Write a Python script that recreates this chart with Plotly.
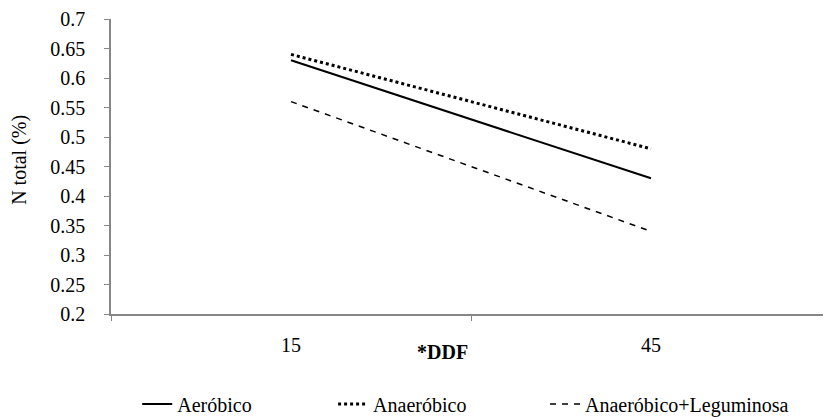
import plotly.graph_objects as go

categories = ["15", "45"]
aerobico = [0.63, 0.43]
anaerobico = [0.64, 0.48]
anaerobico_leg = [0.56, 0.34]
y_ticks = [0.2, 0.25, 0.3, 0.35, 0.4, 0.45, 0.5, 0.55, 0.6, 0.65, 0.7]
y_tick_labels = ["0.2", "0.25", "0.3", "0.35", "0.4", "0.45", "0.5", "0.55", "0.6", "0.65", "0.7"]

FONT = "Times New Roman, Liberation Serif, serif"
FS = 20

fig = go.Figure()
fig.add_trace(go.Scatter(x=categories, y=aerobico, mode="lines", name="Aeróbico",
                         legend="legend",
                         line=dict(color="black", width=2, dash="solid")))
fig.add_trace(go.Scatter(x=categories, y=anaerobico, mode="lines", name="Anaeróbico",
                         legend="legend2",
                         line=dict(color="black", width=3, dash="dot")))
fig.add_trace(go.Scatter(x=categories, y=anaerobico_leg, mode="lines", name="Anaeróbico+Leguminosa",
                         legend="legend3",
                         line=dict(color="black", width=1.5, dash="6px,6px")))

W, H = 823, 409


def leg(xc):
    return dict(orientation="h", xref="container", yref="container", x=xc, xanchor="left",
                y=0.032, yanchor="middle", font=dict(family=FONT, size=FS),
                bgcolor="rgba(0,0,0,0)", itemwidth=30)


fig.update_layout(
    width=W, height=H,
    margin=dict(l=103, r=0, t=11, b=103, autoexpand=False),
    paper_bgcolor="white", plot_bgcolor="white",
    font=dict(family=FONT, size=FS, color="black"),
    showlegend=True,
    legend=leg(0.157),
    legend2=leg(0.395),
    legend3=leg(0.6525),
    xaxis=dict(type="category", range=[-0.5, 1.5], showline=True, linecolor="#868686",
               linewidth=1.5, ticks="outside", tickson="boundaries", ticklen=5,
               tickcolor="#868686", showgrid=False, zeroline=False,
               ticklabelstandoff=12, tickfont=dict(family=FONT, size=FS)),
    yaxis=dict(range=[0.2, 0.7], tickvals=y_ticks, ticktext=y_tick_labels,
               showline=True, linecolor="#868686", linewidth=1.5, ticks="outside",
               ticklen=5, tickcolor="#868686", showgrid=False, zeroline=False,
               ticklabelstandoff=15, tickfont=dict(family=FONT, size=FS)),
    annotations=[
        dict(text="N total (%)", xref="paper", yref="paper", x=-0.128, y=0.522,
             xanchor="center", yanchor="middle", textangle=-90, showarrow=False,
             font=dict(family=FONT, size=FS)),
        dict(text="<b>*DDF</b>", xref="paper", yref="paper", x=0.46, y=-0.129,
             xanchor="center", yanchor="middle", showarrow=False,
             font=dict(family=FONT, size=FS)),
    ],
)

fig.write_html("out.html")
